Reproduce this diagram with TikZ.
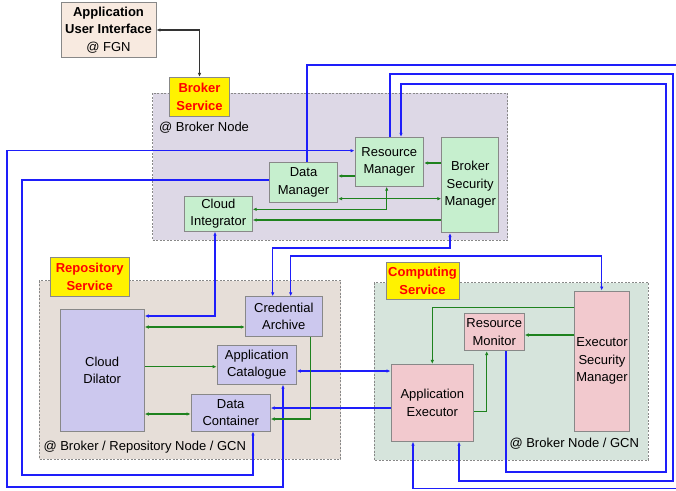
\documentclass[tikz,border=0pt]{standalone}
\usepackage{fontspec}
\setmainfont{Liberation Sans}
\usetikzlibrary{arrows.meta}
\definecolor{bluel}{RGB}{30,30,250}
\definecolor{greenl}{RGB}{30,130,30}
\definecolor{brokerbg}{RGB}{221,216,230}
\definecolor{repobg}{RGB}{230,222,216}
\definecolor{compbg}{RGB}{214,228,220}
\definecolor{brokerbox}{RGB}{198,239,206}
\definecolor{repobox}{RGB}{204,200,238}
\definecolor{compbox}{RGB}{242,201,206}
\definecolor{uibox}{RGB}{248,234,224}
\definecolor{edgegray}{RGB}{136,136,136}
\tikzset{
  box/.style={draw=edgegray, line width=0.8pt, rectangle, align=center, inner sep=1pt,
    font=\fontsize{13}{17.5}\selectfont},
  area/.style={draw=edgegray, line width=0.6pt, dash pattern=on 2pt off 1.5pt},
  svclabel/.style={draw=edgegray, line width=0.8pt, fill=yellow, text=red, align=center,
    inner sep=1pt, font=\fontsize{13}{17.5}\selectfont\bfseries},
  arealabel/.style={anchor=west, inner sep=0pt, font=\fontsize{13}{17.5}\selectfont},
  bl/.style={draw=bluel, line width=1.2pt},
  gl/.style={draw=greenl, line width=1.1pt},
  tip/.tip={Latex[length=4pt,width=3.5pt]},
}
\begin{document}
\begin{tikzpicture}[x=1pt,y=-1pt]
\path[use as bounding box, clip] (0,0) rectangle (676,490);
\fill[white] (0,0) rectangle (676,490);

% areas
\path[area, fill=brokerbg] (152.5,93.3) rectangle (507.5,240.3);
\path[area, fill=repobg] (39.3,280.7) rectangle (340.7,459);
\path[area, fill=compbg] (374.3,282.7) rectangle (648.3,460.3);

\node[arealabel] (lbroker) at (159,128) {@ Broker Node};
\node[arealabel] (lrepo) at (43.3,446.7) {@ Broker / Repository Node / GCN};
\node[arealabel] (lcomp) at (509.3,444) {@ Broker Node / GCN};

% service labels
\node[svclabel, minimum width=60.5pt, minimum height=39pt] (bsl) at (199.5,96.8) {Broker\\Service};
\node[svclabel, minimum width=79.3pt, minimum height=38.7pt] (rsl) at (89.7,276.7) {Repository\\Service};
\node[svclabel, minimum width=73pt, minimum height=37pt] (csl) at (422.5,280.8) {Computing\\Service};

% UI
\node[box, fill=uibox, minimum width=95pt, minimum height=55pt] (appui) at (108.5,30) {\textbf{Application}\\\textbf{User Interface}\\@ FGN};

% broker nodes
\node[box, fill=brokerbox, minimum width=68.4pt, minimum height=40pt] (dm) at (303.5,182.3) {Data\\Manager};
\node[box, fill=brokerbox, minimum width=68pt, minimum height=35pt] (ci) at (218.3,213.8) {Cloud\\Integrator};
\node[box, fill=brokerbox, minimum width=68.7pt, minimum height=49pt] (rm) at (389.3,161.8) {Resource\\Manager};
\node[box, fill=brokerbox, minimum width=57pt, minimum height=95.4pt] (bsm) at (470.2,185) {Broker\\Security\\Manager};

% repository nodes
\node[box, fill=repobox, minimum width=84.3pt, minimum height=121.7pt] (cd) at (102.2,370.2) {Cloud\\Dilator};
\node[box, fill=repobox, minimum width=77pt, minimum height=39.6pt] (ca) at (283.8,316.5) {Credential\\Archive};
\node[box, fill=repobox, minimum width=79.3pt, minimum height=39pt] (ac) at (256.7,364.8) {Application\\Catalogue};
\node[box, fill=repobox, minimum width=79.3pt, minimum height=36.7pt] (dc) at (230.7,412.7) {Data\\Container};

% computing nodes
\node[box, fill=compbox, minimum width=60.3pt, minimum height=37.4pt] (rmon) at (494.2,332) {Resource\\Monitor};
\node[box, fill=compbox, minimum width=82.7pt, minimum height=77pt] (ae) at (432.3,402.8) {Application\\Executor};
\node[box, fill=compbox, minimum width=54.6pt, minimum height=140.7pt] (esm) at (602,361.3) {Executor\\Security\\Manager};

% UI <-> Broker Service
\draw[draw=black!80, line width=1.1pt, tip-tip] (appui.east |- 0,30) -- (199.5,30) -- (bsl.north);

% blue connectors
\draw[bl, tip-tip] (ac.south -| 283,0) -- (283,487) -- (7,487) -- (7,150.7) -- (rm.west |- 0,150.7);
\draw[bl, -tip] (dm.west |- 0,180) -- (22,180) -- (22,475) -- (253,475) -- (dc.south -| 253,0);
\draw[bl, tip-tip] (ci.south -| 215,0) -- (215,316) -- (cd.east |- 0,316);
\draw[bl, tip-tip] (bsm.south -| 450,0) -- (450,248) -- (272.7,248) -- (ca.north -| 272.7,0);
\draw[bl, tip-tip] (ca.north -| 290.7,0) -- (290.7,256) -- (601.7,256) -- (esm.north -| 601.7,0);
\draw[bl, tip-tip] (ac.east |- 0,371) -- (ae.west |- 0,371);
\draw[bl, -tip] (ae.west |- 0,408) -- (dc.east |- 0,408);
\draw[bl, -tip] (rmon.south -| 506,0) -- (506,472) -- (666,472) -- (666,84) -- (401,84) -- (rm.north -| 401,0);
\draw[bl, -tip] (rm.north -| 390,0) -- (390,74) -- (673,74) -- (673,481) -- (459,481) -- (ae.south -| 459,0);
\draw[bl, -tip] (dm.north -| 307,0) -- (307,65) -- (690,65) -- (690,488.6) -- (413,488.6) -- (ae.south -| 413,0);

% green connectors
\draw[gl, -tip] (bsm.west |- 0,163) -- (rm.east |- 0,163);
\draw[gl, -tip] (rm.west |- 0,176) -- (dm.east |- 0,176);
\draw[gl, tip-tip] (dm.east |- 0,198.7) -- (bsm.west |- 0,198.7);
\draw[gl, tip-tip] (rm.south -| 386.7,0) -- (386.7,209.3) -- (ci.east |- 0,209.3);
\draw[gl, -tip] (bsm.west |- 0,220) -- (ci.east |- 0,220);
\draw[gl, tip-tip] (cd.east |- 0,327) -- (ca.west |- 0,327);
\draw[gl, -tip] (cd.east |- 0,366.7) -- (ac.west |- 0,366.7);
\draw[gl, tip-tip] (cd.east |- 0,414) -- (dc.west |- 0,414);
\draw[gl, -tip] (ca.south -| 310.7,0) -- (310.7,419) -- (dc.east |- 0,419);
\draw[gl, -tip] (esm.west |- 0,307.7) -- (432.3,307.7) -- (ae.north);
\draw[gl, -tip] (esm.west |- 0,335) -- (rmon.east |- 0,335);
\draw[gl, -tip] (ae.east |- 0,411.7) -- (486.7,411.7) -- (rmon.south -| 486.7,0);
\end{tikzpicture}
\end{document}
